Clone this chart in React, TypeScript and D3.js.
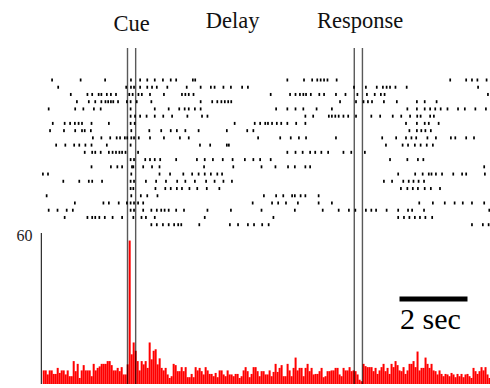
import React from "react";
import * as d3 from "d3";

const WIDTH = 490;
const HEIGHT = 388;

// Trial time window in seconds, relative to cue onset
const TIME_DOMAIN: [number, number] = [-2.515, 10.662];

// Task events (seconds): cue on/off, response window on/off
const EVENT_LINES = [0, 0.24, 6.67, 6.91];
const EVENT_LABELS = ["Cue", "Delay", "Response"];
const EVENT_LABEL_TIMES = [0.12, 3.09, 6.84];

// Spike times (s) for each trial, top row first
const SPIKE_TRAINS: number[][] = [
  [-2.22, -1.38, -0.66, 0.10, 0.37, 0.58, 0.80, 1.04, 1.27, 1.43, 1.92, 1.99, 4.70, 5.19, 5.43, 5.58, 5.68, 5.78, 5.88, 6.15, 9.49, 9.96, 10.13, 10.29, 10.56],
  [-2.04, -0.04, 0.10, 0.19, 0.37, 0.58, 0.72, 0.86, 1.17, 1.74, 2.15, 2.45, 2.56, 2.82, 3.04, 3.37, 3.54, 6.66, 7.01, 7.33, 7.51, 7.62, 7.72, 7.88, 8.21, 10.31],
  [-1.67, -1.18, -1.04, -0.85, -0.77, -0.61, -0.49, -0.34, 0.05, 0.15, 0.32, 0.42, 0.66, 1.07, 1.60, 1.70, 1.80, 1.94, 4.21, 4.78, 4.94, 5.07, 5.17, 5.25, 5.39, 5.64, 5.78, 6.13, 6.41, 6.76, 7.04, 7.27, 7.45, 7.56, 10.60],
  [-1.49, -1.14, -0.95, -0.77, -0.65, -0.57, -0.49, -0.42, -0.28, -0.02, 0.09, 0.27, 0.70, 2.15, 2.49, 2.64, 2.76, 2.86, 2.96, 3.05, 6.25, 6.72, 6.94, 7.07, 7.19, 7.54, 7.92, 8.51, 8.74, 9.09],
  [-2.32, -1.54, -1.30, -0.99, -0.79, 0.09, 0.80, 1.21, 1.52, 1.68, 1.80, 1.98, 2.15, 4.37, 4.70, 4.94, 5.17, 5.56, 6.01, 8.23, 8.51, 8.74, 8.90, 9.05, 9.21, 9.41, 9.72, 9.92, 10.23, 10.54],
  [0.09, 0.22, 0.37, 0.56, 0.80, 1.05, 1.31, 1.76, 2.19, 2.35, 5.23, 5.46, 5.92, 6.01, 6.11, 6.21, 6.35, 6.49, 6.72, 7.17, 7.43, 7.80, 8.05, 8.31, 8.52, 8.62, 8.90, 9.01],
  [-2.20, -1.85, -1.69, -1.55, -1.44, -1.34, -1.06, -0.55, 0.09, 0.21, 3.15, 3.74, 3.90, 4.05, 4.13, 4.25, 4.39, 4.52, 4.70, 4.96, 5.23, 8.19, 8.51, 8.74, 8.86, 9.15],
  [-2.28, -1.87, -1.54, -1.34, -1.26, -1.08, 0.11, 0.64, 0.99, 1.27, 1.45, 1.70, 2.09, 2.92, 3.52, 3.70, 8.29, 8.51, 8.64, 8.76, 8.92],
  [-1.02, -0.77, -0.51, -0.32, -0.22, -0.08, -0.01, 0.11, 0.19, 0.33, 0.66, 1.07, 1.54, 1.80, 3.84, 4.49, 4.80, 5.04, 5.25, 6.13, 7.49, 7.90, 8.19, 8.35, 8.49, 8.82, 9.07, 9.51, 9.64, 9.96, 10.19],
  [-2.10, -1.83, -1.57, -1.42, -1.24, -1.06, -0.61, 0.09, 2.13, 2.43, 2.92, 2.98, 7.60, 8.09, 8.25, 8.45, 8.62, 8.80, 8.98],
  [-1.26, -1.04, -0.95, -0.79, -0.55, -0.44, -0.34, -0.24, -0.16, -0.06, 0.31, 4.70, 4.94, 5.15, 5.37, 5.52, 5.70, 5.90, 6.35, 6.58, 6.98],
  [0.09, 0.19, 0.52, 0.66, 0.80, 0.96, 1.43, 2.04, 2.27, 2.51, 2.80, 3.09, 3.45, 3.70, 3.90, 4.21, 7.72, 8.23, 8.54, 8.70],
  [-1.06, -0.49, -0.30, -0.16, 0.13, 0.17, 0.46, 0.72, 0.94, 2.25, 3.11, 3.94, 4.35, 4.72, 4.92, 5.23, 5.37, 10.49],
  [-2.49, -2.34, 0.11, 0.94, 1.25, 1.64, 1.90, 2.09, 2.27, 2.45, 2.64, 2.78, 7.96, 8.46, 8.68, 8.86, 8.94, 9.07, 9.25, 9.58, 9.84, 9.96, 10.51],
  [-1.89, -1.42, -1.14, -1.04, -0.75, 0.09, 0.19, 0.54, 0.84, 1.13, 1.46, 1.70, 1.98, 2.31, 2.56, 2.82, 3.07, 7.54, 7.78, 8.11, 8.27, 8.41, 8.56, 8.72],
  [0.09, 0.17, 0.82, 1.11, 1.27, 1.45, 1.60, 1.82, 2.05, 2.33, 2.70, 8.04, 8.23, 8.39, 8.54, 8.74, 8.92, 9.19],
  [-2.38, 0.11, 0.39, 0.58, 0.88, 4.01, 4.37, 4.58, 4.84, 4.92, 5.09, 5.23, 5.62],
  [-1.55, -0.71, -0.55, -0.26, -0.02, 0.09, 0.19, 0.31, 0.46, 3.68, 4.25, 4.43, 4.66, 5.01, 5.62, 6.01, 8.58, 8.98, 9.33, 9.62, 9.86, 10.13, 10.49],
  [-2.32, -2.06, -1.79, -1.61, 0.09, 0.19, 0.46, 0.70, 0.86, 0.99, 1.09, 1.21, 1.43, 1.66, 2.35, 3.04, 3.94, 4.92, 5.74, 6.21, 6.51, 6.70, 7.01, 7.17, 7.31, 7.62, 7.96, 8.25, 8.37, 8.72, 10.64],
  [-1.85, -1.18, -1.04, -0.95, -0.83, -0.67, -0.44, -0.16, 0.17, 0.41, 0.54, 0.80, 2.27, 4.29, 7.96, 8.13, 8.29, 8.45, 8.60, 8.76, 8.96],
  [0.70, 0.86, 1.04, 1.21, 1.37, 1.49, 1.58, 2.11, 3.01, 3.25, 3.54, 3.72, 3.96, 4.15, 10.13, 10.45, 10.62],
];

// Peri-event time histogram (spikes/s), consecutive bins
const HIST_START = -2.494;
const HIST_BIN = 0.0588;
const HIST_RATE = [
  5.4, 5.4, 3.8, 5.4, 5.4, 4, 4, 6.4, 4.4, 5.4,
  5.4, 3.8, 5.4, 3.1, 3.1, 9.1, 5.1, 8, 2.4, 5.4,
  7.5, 5.4, 5.4, 5.4, 3.1, 8, 5.4, 6.4, 7, 8,
  8, 8, 9.1, 9.1, 7.5, 5.4, 5.4, 6.4, 5.1, 6.7,
  3.8, 3.8, 7.8, 57, 11.8, 16.5, 13.2, 9.1, 5.4, 9.1,
  7.8, 9.1, 6.4, 16.5, 9.8, 13.2, 13.8, 7.8, 10.2, 6.4,
  5.4, 6.4, 3.8, 2.4, 3.1, 8, 7.5, 5.1, 5.1, 6.7,
  5.1, 6.7, 2.7, 2.7, 4, 2.7, 6.7, 5.4, 6.4, 5.1,
  3.8, 6.7, 5.4, 4, 4, 3.1, 4.4, 2.7, 5.4, 5.4,
  3.8, 3.1, 5.4, 3.8, 3.8, 3.1, 4, 4, 2.4, 3.1,
  5.4, 6.7, 5.1, 2.7, 4, 6.7, 6.7, 5.1, 3.1, 5.1,
  5.1, 3.8,
  3.8, 5.4, 3.1, 4.8, 8, 4.8, 6.4, 7.5, 3.1, 3.1,
  8, 5.4, 3.1, 6.4, 10.5, 5.4, 6.4, 6.4, 3.1, 6.4,
  8, 5.1, 6.4, 3.8, 4, 4, 5.1, 6.4, 2.7, 3.1,
  5.1, 5.1, 5.4, 5.4, 6.4, 6.4, 3.8, 3.1, 6.4, 5.4,
  5.4, 6.7, 5.1, 5.4, 5.1, 3.8, 1.7, 1.1, 8, 7.1,
  6.7, 6.7, 6.7, 5.1, 6.4, 4, 5.4, 6.7, 8, 5.1,
  6.4, 4, 8, 6.7, 9.1, 7.5, 5.4, 5.1, 6.7, 4,
  5.4, 8, 8, 9.1, 6.7, 12.9, 5.4, 6.4, 6.4, 10.5,
  8, 6.4, 8, 5.4, 5.1, 3.8, 5.4, 4, 3.1, 4,
  3.8, 3.1, 4.4, 3.8, 2.7, 4, 3.1, 4, 2.7, 3.8,
  4, 3.1, 2.4, 6.4, 5.1, 4, 5.1, 6.7, 5.4, 6.7,
  3.8, 2.4,
];

const RATE_MAX = 60;
const RATE_TICKS = [60];

// Time scale bar (seconds)
const SCALE_BAR_START = 8;
const SCALE_BAR_SEC = 2;
const SCALE_BAR_LABEL = "2 sec";

const SERIF = "Liberation Serif, Times New Roman, serif";

export default function App() {
  const x = d3.scaleLinear().domain(TIME_DOMAIN).range([42, 490]);
  const rowY = d3
    .scalePoint<number>()
    .domain(d3.range(SPIKE_TRAINS.length))
    .range([80, 224.7]);
  const y = d3.scaleLinear().domain([0, RATE_MAX]).range([384, 233]);

  const binW = x(HIST_BIN) - x(0);
  const axisX = 41.3;

  return (
    <svg
      width={WIDTH}
      height={HEIGHT}
      style={{ position: "absolute", left: 0, top: 0, background: "#fff" }}
    >
      {/* raster */}
      <g fill="#000">
        {SPIKE_TRAINS.map((train, r) =>
          train.map((t, k) => (
            <rect
              key={`${r}-${k}`}
              x={x(t) - 0.8}
              y={(rowY(r) as number) - 1.5}
              width={1.7}
              height={3}
            />
          ))
        )}
      </g>

      {/* histogram */}
      <g fill="#ff0000">
        {HIST_RATE.map((v, i) => {
          const x0 = x(HIST_START + i * HIST_BIN);
          return (
            <rect
              key={i}
              x={x0}
              y={y(v)}
              width={binW}
              height={y(0) - y(v)}
            />
          );
        })}
      </g>

      {/* rate axis */}
      <line x1={axisX} x2={axisX} y1={y(RATE_MAX)} y2={y(0)} stroke="#000" strokeWidth={1} />
      {RATE_TICKS.map((t) => (
        <text
          key={t}
          x={32.5}
          y={y(t) + 8}
          textAnchor="end"
          style={{ fontFamily: SERIF }}
          fontSize={16}
          fill="#222"
        >
          {t}
        </text>
      ))}

      {/* event markers */}
      <g stroke="#000" strokeOpacity={0.65} strokeWidth={1.4}>
        {EVENT_LINES.map((t, i) => (
          <line key={i} x1={x(t)} x2={x(t)} y1={48} y2={384} />
        ))}
      </g>
      {EVENT_LABELS.map((lab, i) => (
        <text
          key={lab}
          x={x(EVENT_LABEL_TIMES[i])}
          y={i === 0 ? 31 : 28}
          textAnchor="middle"
          style={{ fontFamily: SERIF }}
          fontSize={22.5}
          fill="#111"
        >
          {lab}
        </text>
      ))}

      {/* scale bar */}
      <rect
        x={x(SCALE_BAR_START)}
        y={296.5}
        width={x(SCALE_BAR_START + SCALE_BAR_SEC) - x(SCALE_BAR_START)}
        height={5}
        fill="#000"
      />
      <text
        x={x(SCALE_BAR_START) + 0.5}
        y={329}
        textAnchor="start"
        style={{ fontFamily: SERIF }}
        fontSize={30}
        fill="#000"
      >
        {SCALE_BAR_LABEL}
      </text>
    </svg>
  );
}
